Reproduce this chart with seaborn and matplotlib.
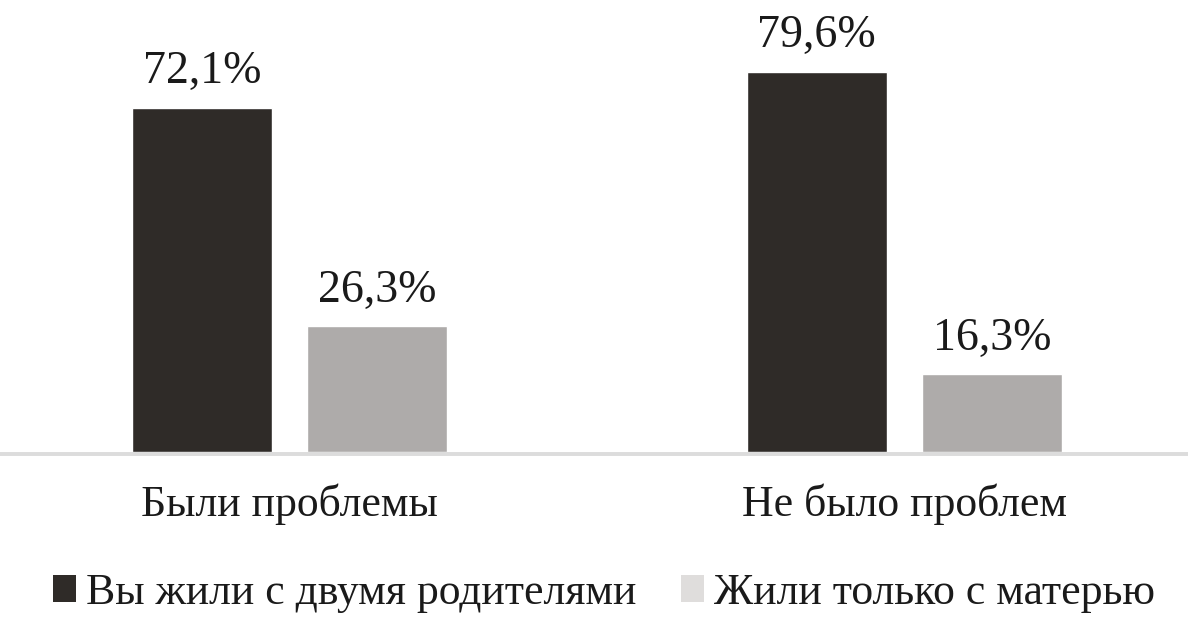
import pandas as pd
import matplotlib.pyplot as plt
import seaborn as sns
from matplotlib.patches import Patch

# Data
groups = ["Были проблемы", "Не было проблем"]
series = ["Вы жили с двумя родителями", "Жили только с матерью"]
two_parents = [72.1, 79.6]
mother_only = [26.3, 16.3]

df = pd.DataFrame({
    "group": groups * 2,
    "series": [series[0]] * 2 + [series[1]] * 2,
    "value": two_parents + mother_only,
})

bar_colors = ["#2f2b28", "#aeabaa"]
legend_colors = ["#2f2b28", "#dfdddc"]

sns.set_style("white")
plt.rcParams["font.family"] = ["Liberation Serif", "DejaVu Serif"]

fig = plt.figure(figsize=(11.88, 6.28), dpi=100)
ax = fig.add_axes([0, (628 - 452) / 628, 1, 452 / 628])

sns.barplot(data=df, x="group", y="value", hue="series", palette=bar_colors,
            width=0.57, gap=0.205, ax=ax, legend=False, saturation=1)

for cont in ax.containers:
    labels = [f"{b.get_height():.1f}%".replace(".", ",") for b in cont]
    ax.bar_label(cont, labels=labels, padding=10.5, fontsize=33, color="#1a1a1a")

ax.set_xlim(-289.5 / 615, (1188 - 289.5) / 615)
ax.set_ylim(0, 452 / 4.774)
ax.set_xlabel("")
ax.set_ylabel("")
ax.set_yticks([])
ax.tick_params(axis="x", length=0, pad=21, labelsize=31.5, colors="#1a1a1a")

for s in ["top", "left", "right"]:
    ax.spines[s].set_visible(False)
ax.spines["bottom"].set_color("#dcdcdc")
ax.spines["bottom"].set_linewidth(2.8)
ax.spines["bottom"].set_position(("outward", 1.5))

handles = [Patch(facecolor=c, edgecolor="none") for c in legend_colors]
fig.legend(handles, series, loc="center", bbox_to_anchor=(604 / 1188, 1 - 593 / 628),
           ncol=2, frameon=False, fontsize=31.5, handlelength=0.53, handleheight=0.6,
           handletextpad=0.23, columnspacing=1.0, labelcolor="#1a1a1a")

fig.savefig("out.png", dpi=100)
